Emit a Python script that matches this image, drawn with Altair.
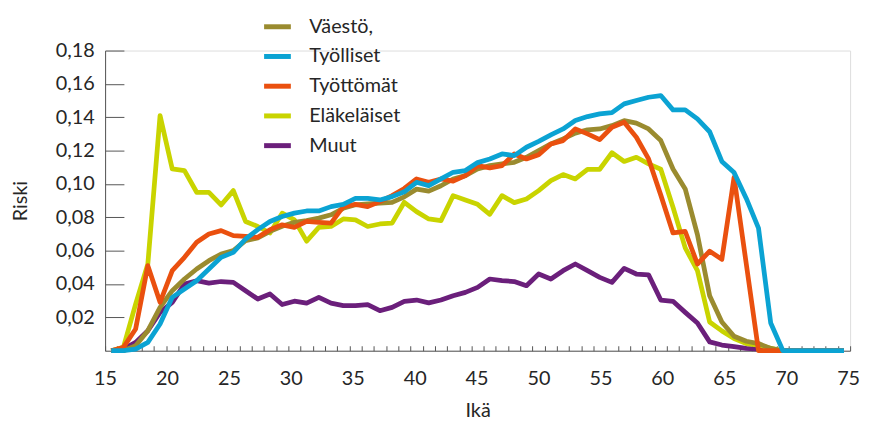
import altair as alt
import pandas as pd

# ---------------- data ----------------
ages = list(range(15, 76))

vaesto = [0, 0, 0.003, 0.012, 0.026, 0.036, 0.043, 0.049, 0.054, 0.058,
          0.060, 0.066, 0.0676, 0.0716, 0.0746, 0.077, 0.078, 0.0795, 0.0815, 0.0854,
          0.0875, 0.088, 0.0885, 0.089, 0.0923, 0.0969, 0.0957, 0.0989, 0.103, 0.105,
          0.109, 0.111, 0.112, 0.113, 0.116, 0.120, 0.124, 0.127, 0.1305, 0.1325,
          0.133, 0.135, 0.138, 0.1365, 0.133, 0.126, 0.109, 0.097, 0.0696, 0.033,
          0.0172, 0.0087, 0.0057, 0.0043, 0.0014, 0, 0, 0, 0, 0, 0]

tyolliset = [0, 0, 0.001, 0.005, 0.016, 0.032, 0.037, 0.042, 0.049, 0.056,
             0.059, 0.067, 0.0726, 0.0775, 0.0805, 0.0825, 0.0838, 0.0838, 0.0864, 0.0878,
             0.0914, 0.0914, 0.0904, 0.0924, 0.0953, 0.101, 0.099, 0.103, 0.107, 0.108,
             0.1128, 0.115, 0.118, 0.117, 0.122, 0.1255, 0.1294, 0.133, 0.138, 0.1404,
             0.142, 0.1428, 0.148, 0.150, 0.152, 0.153, 0.1444, 0.1444, 0.139, 0.1313,
             0.1135, 0.1068, 0.0913, 0.0735, 0.0166, 0, 0, 0, 0, 0, 0]

tyottomat = [0, 0.002, 0.013, 0.051, 0.029, 0.048, 0.056, 0.065, 0.070, 0.072,
             0.069, 0.0686, 0.068, 0.0726, 0.0755, 0.074, 0.0775, 0.077, 0.0765, 0.0864,
             0.0878, 0.0864, 0.0894, 0.093, 0.0973, 0.103, 0.101, 0.103, 0.1017, 0.105,
             0.111, 0.1096, 0.111, 0.118, 0.115, 0.1175, 0.124, 0.126, 0.133, 0.130,
             0.1266, 0.134, 0.137, 0.128, 0.115, 0.0933, 0.0706, 0.0715, 0.052, 0.0597,
             0.0548, 0.104, 0.052, 0, 0, 0, 0, 0, 0, 0, 0]

elakelaiset = [0, 0.002, 0.028, 0.052, 0.141, 0.109, 0.108, 0.095, 0.095, 0.0874,
               0.096, 0.0775, 0.0745, 0.0706, 0.0825, 0.0785, 0.0657, 0.074, 0.0745, 0.079,
               0.0785, 0.0745, 0.076, 0.0765, 0.089, 0.0834, 0.079, 0.078, 0.093, 0.0904,
               0.0878, 0.0818, 0.093, 0.0888, 0.091, 0.096, 0.102, 0.1056, 0.103, 0.1088,
               0.1088, 0.1187, 0.1135, 0.116, 0.112, 0.1088, 0.086, 0.0617, 0.048, 0.0172,
               0.0119, 0.0073, 0.0043, 0.0034, 0.0014, 0, 0, 0, 0, 0, 0]

muut = [0, 0.001, 0.005, 0.012, 0.023, 0.029, 0.040, 0.042, 0.0405, 0.0415,
        0.041, 0.036, 0.031, 0.034, 0.0277, 0.0297, 0.0285, 0.032, 0.0285, 0.027,
        0.027, 0.0277, 0.024, 0.026, 0.0296, 0.0304, 0.0287, 0.0304, 0.033, 0.035,
        0.038, 0.043, 0.042, 0.0415, 0.039, 0.046, 0.043, 0.048, 0.052, 0.048,
        0.044, 0.041, 0.0494, 0.046, 0.0455, 0.0304, 0.0296, 0.023, 0.0166, 0.0053,
        0.0034, 0.0024, 0.0014, 0.001, 0, 0, 0, 0, 0, 0, 0]

series_names = ["Väestö,", "Työlliset", "Työttömät", "Eläkeläiset", "Muut"]
series_colors = ["#9a8b2f", "#0ba3d3", "#ea500f", "#c9d400", "#6b1f7b"]
series_values = {
    "Väestö,": vaesto,
    "Työlliset": tyolliset,
    "Työttömät": tyottomat,
    "Eläkeläiset": elakelaiset,
    "Muut": muut,
}
# drawing order (first = bottom)
draw_order = ["Muut", "Eläkeläiset", "Väestö,", "Työttömät", "Työlliset"]

x_labels = [15, 20, 25, 30, 35, 40, 45, 50, 55, 60, 65, 70, 75]
y_ticks = [0.02, 0.04, 0.06, 0.08, 0.10, 0.12, 0.14, 0.16, 0.18]

rows = []
for name in draw_order:
    for a, v in zip(ages, series_values[name]):
        rows.append({"Ikä": a, "Riski": v, "Sarja": name})
df = pd.DataFrame(rows)

# ---------------- layout ----------------
W, H = 752, 303
n_cat = len(ages)
x_dom = [ages[0] - 0.5, ages[-1] + 0.5]
data_px = W / n_cat          # px per category
label_px = 12.5              # px per year of the label row
label_pos = [x_dom[0] + (L - x_labels[0]) * label_px / data_px for L in x_labels]
ratio = data_px / label_px
label_expr = f"format(round({x_labels[0]} + (datum.value - {x_dom[0]}) * {ratio}), 'd')"
boundaries = [x_dom[0] + i for i in range(n_cat + 1)]

FONT = "Lato"
TXT = "#262626"
AX = "#555555"

x_scale = alt.Scale(domain=x_dom, nice=False, zero=False)
y_scale = alt.Scale(domain=[0, 0.18], nice=False)

lines = alt.Chart(df).mark_line(strokeWidth=4.8, strokeJoin="round").encode(
    x=alt.X("Ikä:Q", scale=x_scale,
            axis=alt.Axis(orient="bottom", values=label_pos, labelExpr=label_expr,
                          ticks=False, tickSize=0, grid=False, domain=True,
                          domainColor=AX, domainWidth=1, labelFlush=False,
                          labelFont=FONT, labelFontSize=20, labelColor=TXT,
                          labelBaseline="alphabetic", labelPadding=34,
                          title="Ikä", titleFont=FONT, titleFontSize=20,
                          titleFontWeight="normal", titleColor=TXT,
                          titleBaseline="alphabetic", titleY=66)),
    y=alt.Y("Riski:Q", scale=y_scale,
            axis=alt.Axis(orient="left", values=y_ticks,
                          labelExpr="replace(format(datum.value, '.2f'), '.', ',')",
                          ticks=False, tickSize=0, grid=False, domain=True,
                          domainColor=AX, domainWidth=1,
                          labelFont=FONT, labelFontSize=20, labelColor=TXT,
                          labelPadding=11,
                          title="Riski", titleFont=FONT, titleFontSize=20,
                          titleFontWeight="normal", titleColor=TXT,
                          titleAngle=270, titleX=-85, titleY=H / 2,
                          titleAlign="center", titleBaseline="middle")),
    color=alt.Color("Sarja:N",
                    scale=alt.Scale(domain=series_names, range=series_colors),
                    legend=alt.Legend(orient="none", legendX=158, legendY=-40,
                                      title=None, symbolType="stroke",
                                      symbolSize=729, symbolStrokeWidth=5,
                                      labelFont=FONT, labelFontSize=20,
                                      labelColor=TXT, labelOffset=16,
                                      rowPadding=4, padding=0)),
    detail="Sarja:N",
)

tick_layer = alt.Chart(df).mark_point(opacity=0, size=1).encode(
    x=alt.X("Ikä:Q", scale=x_scale,
            axis=alt.Axis(orient="top", offset=-H, values=boundaries,
                          labels=False, domain=False, grid=False, ticks=True,
                          tickSize=5, tickColor=AX, tickWidth=1, title=None)),
    y=alt.Y("Riski:Q", scale=y_scale,
            axis=alt.Axis(orient="right", offset=-W, values=y_ticks,
                          labels=False, domain=False, grid=False, ticks=True,
                          tickSize=19, tickColor=AX, tickWidth=1, title=None)),
)

chart = alt.layer(tick_layer, lines).resolve_axis(
    x="independent", y="independent"
).properties(
    width=W, height=H,
    autosize=alt.AutoSizeParams(type="none"),
    padding={"left": 98, "top": 41, "right": 11, "bottom": 69},
).configure_view(stroke=None).configure(background="white")

chart.save("out.html", embed_options={"renderer": "svg", "actions": False})
